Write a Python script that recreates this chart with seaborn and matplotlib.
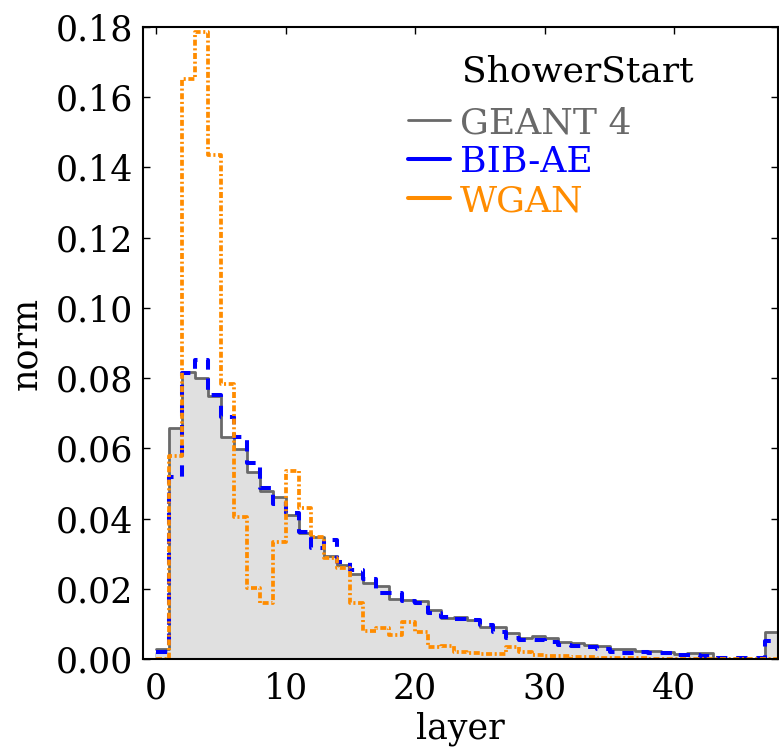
import numpy as np
import pandas as pd
import matplotlib
matplotlib.use("Agg")
import matplotlib.pyplot as plt
from matplotlib.lines import Line2D
import seaborn as sns

layers = list(range(48))
geant4 = [0.0028, 0.0657, 0.0817, 0.0800, 0.0749, 0.0631, 0.0598, 0.0534, 0.0479, 0.0460,
          0.0410, 0.0360, 0.0347, 0.0292, 0.0268, 0.0242, 0.0217, 0.0209, 0.0170, 0.0168,
          0.0165, 0.0140, 0.0116, 0.0119, 0.0111, 0.0092, 0.0092, 0.0073, 0.0060, 0.0065,
          0.0059, 0.0049, 0.0045, 0.0040, 0.0037, 0.0028, 0.0028, 0.0024, 0.0024, 0.0021,
          0.0014, 0.0016, 0.0016, 0.0, 0.0, 0.0, 0.0, 0.0078]
bib_ae = [0.0020, 0.0517, 0.0815, 0.0852, 0.0752, 0.0688, 0.0633, 0.0559, 0.0486, 0.0441,
          0.0415, 0.0363, 0.0315, 0.0340, 0.0277, 0.0253, 0.0227, 0.0187, 0.0187, 0.0166,
          0.0160, 0.0130, 0.0119, 0.0115, 0.0111, 0.0097, 0.0078, 0.0060, 0.0055, 0.0053,
          0.0049, 0.0040, 0.0038, 0.0033, 0.0028, 0.0021, 0.0016, 0.0021, 0.0016, 0.0016,
          0.0012, 0.0012, 0.0008, 0.0002, 0.0002, 0.0002, 0.0002, 0.0050]
wgan = [0.0, 0.0578, 0.1651, 0.1785, 0.1435, 0.0782, 0.0405, 0.0201, 0.0159, 0.0332,
        0.0535, 0.0431, 0.0347, 0.0289, 0.0258, 0.0159, 0.0081, 0.0087, 0.0068, 0.0106,
        0.0078, 0.0035, 0.0036, 0.0021, 0.0017, 0.0015, 0.0013, 0.0033, 0.0020, 0.0012,
        0.0008, 0.0008, 0.0006, 0.0005, 0.0004, 0.0003, 0.0002, 0.0002, 0.0001, 0.0,
        0.0, 0.0, 0.0, 0.0, 0.0, 0.0, 0.0, 0.0]
series_names = ["GEANT 4", "BIB-AE", "WGAN"]
series_colors = ["dimgray", "blue", "darkorange"]
legend_title = "ShowerStart"
x_ticks = [0, 10, 20, 30, 40]
y_ticks = [0.00, 0.02, 0.04, 0.06, 0.08, 0.10, 0.12, 0.14, 0.16, 0.18]

sns.set_style("ticks")
plt.rcParams["font.family"] = ["DejaVu Serif"]
plt.rcParams["text.color"] = "black"
plt.rcParams["axes.labelcolor"] = "black"

fig = plt.figure(figsize=(7.79, 7.47), dpi=100)
ax = fig.add_axes([143 / 779, 1 - 659 / 747, (778 - 143) / 779, (659 - 27) / 747])

df = pd.DataFrame({"layer": np.array(layers) + 0.5,
                   "geant4": geant4, "bib_ae": bib_ae, "wgan": wgan})
hist_kw = dict(data=df, x="layer", binwidth=1, binrange=(0, 48), element="step", ax=ax)

sns.histplot(weights="geant4", fill=True, color="#e0e0e0", alpha=1.0, linewidth=0, **hist_kw)
sns.histplot(weights="geant4", fill=False, color=series_colors[0], linewidth=2.0, **hist_kw)
sns.histplot(weights="bib_ae", fill=False, color=series_colors[1], linewidth=2.9,
             linestyle=(0, (2.8, 2.2)), **hist_kw)
sns.histplot(weights="wgan", fill=False, color=series_colors[2], linewidth=2.7,
             linestyle=(0, (1.6, 0.7, 0.55, 0.7)), **hist_kw)

ax.set_xlim(-1, 48)
ax.set_ylim(0, 0.18)
ax.set_xticks(x_ticks)
ax.set_yticks(y_ticks)
ax.set_yticklabels([f"{v:.2f}" for v in y_ticks])
ax.tick_params(direction="in", top=True, right=True, length=5, width=1,
               labelsize=25, colors="black")
ax.tick_params(axis="x", pad=9)
ax.tick_params(axis="y", pad=7)
for s in ax.spines.values():
    s.set_linewidth(1.5)
    s.set_color("black")
ax.set_xlabel("layer", fontsize=25, labelpad=4)
ax.set_ylabel("norm", fontsize=25, labelpad=8)

handles = [Line2D([], [], color=series_colors[0], lw=2.0),
           Line2D([], [], color=series_colors[1], lw=2.9),
           Line2D([], [], color=series_colors[2], lw=2.9)]
leg = ax.legend(handles, series_names, loc="upper left",
                bbox_to_anchor=(408 / 779, 1 - 106 / 747), bbox_transform=fig.transFigure,
                frameon=False, fontsize=26, handlelength=1.15, handletextpad=0.3,
                labelspacing=0.14, borderpad=0, borderaxespad=0, labelcolor=series_colors)
fig.text(462 / 779, 1 - 72 / 747, legend_title, fontsize=26, color="black",
         ha="left", va="center")

fig.savefig("out.png", dpi=100)
